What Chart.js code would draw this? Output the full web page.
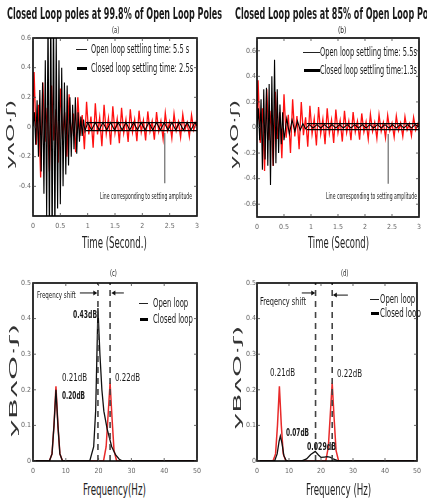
<!DOCTYPE html>
<html>
<head>
<meta charset="utf-8">
<script src="https://cdn.jsdelivr.net/npm/chart.js@4.4.1/dist/chart.umd.min.js"></script>
<style>
html, body { margin: 0; padding: 0; background: #fff; }
#fig { position: relative; width: 427px; height: 503px; overflow: hidden; background: #fff;
       font-family: 'Liberation Sans Narrow', 'DejaVu Sans Condensed', 'Liberation Sans', sans-serif; color: #1a1a1a; }
canvas { position: absolute; }
.t { position: absolute; white-space: nowrap; line-height: 1; transform-origin: 0 50%; }
.tr { position: absolute; white-space: nowrap; line-height: 1; transform-origin: 50% 50%; color: #333; }
.ln { position: absolute; background: #222; }
</style>
</head>
<body>
<div id="fig">
  <canvas id="ca" width="213" height="230" style="left:0;top:20px"></canvas>
  <canvas id="cb" width="214" height="230" style="left:213px;top:20px"></canvas>
  <canvas id="cc" width="213" height="218" style="left:0;top:262px"></canvas>
  <canvas id="cd" width="214" height="218" style="left:213px;top:262px"></canvas>

  <!-- titles -->
  <div class="t" id="title1" data-x="7" data-y="14" data-w="215" style="font-size:16px;font-weight:bold">Closed Loop poles at 99.8% of Open Loop Poles</div>
  <div class="t" id="title2" data-x="235" data-y="14" data-like="title1" style="font-size:16px;font-weight:bold">Closed Loop poles at 85% of Open Loop Poles</div>
  <div class="t" data-x="112" data-y="30" data-w="7" style="font-size:9px">(a)</div>
  <div class="t" data-x="338" data-y="30" data-w="8" style="font-size:9px">(b)</div>
  <div class="t" data-x="110" data-y="273" data-w="7" style="font-size:9px">(c)</div>
  <div class="t" data-x="341" data-y="273" data-w="7" style="font-size:9px">(d)</div>

  <!-- legends (a) -->
  <div class="ln" style="left:76px;top:48.5px;width:11px;height:1px"></div>
  <div class="t" data-x="91" data-y="49" data-w="98" style="font-size:12px">Open loop settling time: 5.5 s</div>
  <div class="ln" style="left:77px;top:67px;width:10px;height:3px;background:#000"></div>
  <div class="t" data-x="91" data-y="68" data-w="102" style="font-size:12px">Closed loop settling time: 2.5s</div>
  <!-- legends (b) -->
  <div class="ln" style="left:303px;top:51.5px;width:17px;height:1px"></div>
  <div class="t" data-x="320" data-y="52" data-w="97" style="font-size:12px">Open loop settling time: 5.5s</div>
  <div class="ln" style="left:304px;top:68.5px;width:16px;height:3px;background:#000"></div>
  <div class="t" data-x="320" data-y="70" data-w="97" style="font-size:12px">Closed loop settling time:1.3s</div>
  <!-- legends (c) -->
  <div class="ln" style="left:139px;top:302.5px;width:9px;height:1px"></div>
  <div class="t" data-x="153" data-y="303" data-w="35" style="font-size:12px">Open loop</div>
  <div class="ln" style="left:140px;top:317.5px;width:8px;height:3px;background:#000"></div>
  <div class="t" data-x="153" data-y="319" data-w="40" style="font-size:12px">Closed loop</div>
  <!-- legends (d) -->
  <div class="ln" style="left:370px;top:298.5px;width:9px;height:1px"></div>
  <div class="t" data-x="380" data-y="299" data-w="35" style="font-size:12px">Open loop</div>
  <div class="ln" style="left:371px;top:311.5px;width:8px;height:3px;background:#000"></div>
  <div class="t" data-x="380" data-y="313" data-w="41" style="font-size:12px">Closed loop</div>

  <!-- annotations -->
  <div class="t" data-x="100" data-y="197" data-w="92" style="font-size:8px">Line corresponding to setting amplitude</div>
  <div class="t" data-x="326" data-y="197" data-w="91" style="font-size:8px">Line corresponding to setting amplitude</div>
  <div class="t" data-x="37" data-y="295" data-w="39" style="font-size:9px">Freqency shift</div>
  <div class="t" data-x="260" data-y="302" data-w="46" style="font-size:10px">Freqency shift</div>
  <div class="t" data-x="73" data-y="314" data-w="24" style="font-size:11px;font-weight:bold">0.43dB</div>
  <div class="t" data-x="62" data-y="377" data-w="25" style="font-size:11px">0.21dB</div>
  <div class="t" data-x="62" data-y="395" data-w="23" style="font-size:11px;font-weight:bold">0.20dB</div>
  <div class="t" data-x="115" data-y="377" data-w="25" style="font-size:11px">0.22dB</div>
  <div class="t" data-x="270" data-y="372" data-w="25" style="font-size:11px">0.21dB</div>
  <div class="t" data-x="337" data-y="373" data-w="25" style="font-size:11px">0.22dB</div>
  <div class="t" data-x="286" data-y="432" data-w="23" style="font-size:11px;font-weight:bold">0.07dB</div>
  <div class="t" data-x="307" data-y="446" data-w="29" style="font-size:11px;font-weight:bold">0.029dB</div>

  <!-- axis titles -->
  <div class="t" data-x="82" data-y="243" data-w="65" style="font-size:16px;color:#222">Time (Second.)</div>
  <div class="t" data-x="308" data-y="243" data-w="61" style="font-size:16px;color:#222">Time (Second)</div>
  <div class="t" data-x="83" data-y="490" data-w="63" style="font-size:16px;color:#222">Frequency(Hz)</div>
  <div class="t" data-x="306" data-y="490" data-w="65" style="font-size:16px;color:#222">Frequency (Hz)</div>
  <div class="tr" data-cx="11" data-cy="134" data-w="70" style="font-size:11px">yʌO·ʃ)</div>
  <div class="tr" data-cx="235" data-cy="134" data-w="70" style="font-size:11px">yʌO·ʃ)</div>
  <div class="tr" data-cx="13" data-cy="380" data-w="115" style="font-size:11px">yBʌO·ʃ)</div>
  <div class="tr" data-cx="237" data-cy="377" data-w="105" style="font-size:11px">yBʌO·ʃ)</div>
</div>

<script>
const FONT = "'Liberation Sans Narrow','DejaVu Sans Condensed','Liberation Sans',sans-serif";

// axis ticks
const timeTicks = [0, 0.5, 1, 1.5, 2, 2.5, 3];
const ampTicksA = [-0.4, -0.2, 0, 0.2, 0.4, 0.6];
const ampTicksB = [-0.6, -0.4, -0.2, 0, 0.2, 0.4, 0.6];
const freqTicks = [0, 10, 20, 30, 40, 50];
const specTicks = [0, 0.1, 0.2, 0.3, 0.4, 0.5];

// open loop response [time s, amplitude] (same in a and b)
const openLoopSignal = [
  [0,0.05],[0.02,0.37],[0.06,-0.12],[0.10,0.15],[0.14,-0.34],
  [0.18,0.30],[0.22,-0.10],[0.26,0.13],[0.30,-0.30],
  [0.34,0.28],[0.38,-0.09],[0.42,0.12],[0.46,-0.24],
  [0.50,0.26],[0.54,-0.08],[0.58,0.10],[0.62,-0.20],
  [0.66,0.22],[0.70,-0.07],[0.74,0.09],[0.78,-0.17],
  [0.82,0.20],[0.86,-0.06],[0.90,0.08],[0.94,-0.15],
  [0.98,0.17],[1.02,-0.05],[1.06,0.07],[1.10,-0.14],
  [1.14,0.16],[1.18,-0.05],[1.22,0.065],[1.26,-0.13],
  [1.30,0.15],[1.34,-0.045],[1.38,0.06],[1.42,-0.12],
  [1.46,0.14],[1.50,-0.04],[1.54,0.055],[1.58,-0.11],
  [1.62,0.13],[1.66,-0.04],[1.70,0.05],[1.74,-0.10],
  [1.78,0.12],[1.82,-0.035],[1.86,0.05],[1.90,-0.095],
  [1.94,0.11],[1.98,-0.035],[2.02,0.045],[2.06,-0.09],
  [2.10,0.105],[2.14,-0.03],[2.18,0.04],[2.22,-0.085],
  [2.26,0.10],[2.30,-0.03],[2.34,0.04],[2.38,-0.08],
  [2.42,0.095],[2.46,-0.025],[2.50,0.035],[2.54,-0.075],
  [2.58,0.09],[2.62,-0.025],[2.66,0.035],[2.70,-0.07],
  [2.74,0.085],[2.78,-0.02],[2.82,0.03],[2.86,-0.065],
  [2.90,0.08],[2.94,-0.02],[2.98,0.03],[3.0,-0.01]
];

// closed loop, poles at 99.8%
const closedLoop998 = [
  [0,0],[0.025,0.1],[0.05,-0.12],[0.075,0.18],[0.1,-0.2],[0.125,0.25],[0.15,-0.3],
  [0.175,0.3],[0.2,-0.45],[0.225,0.45],[0.25,-0.6],[0.275,0.75],[0.3,-0.75],
  [0.325,0.8],[0.35,-0.8],[0.375,0.8],[0.4,-0.75],[0.425,0.6],[0.45,-0.55],
  [0.475,0.45],[0.5,-0.52],[0.525,0.4],[0.55,-0.4],[0.575,0.3],[0.6,-0.32],
  [0.625,0.28],[0.65,-0.26],[0.675,0.2],[0.7,-0.2],[0.725,0.15],[0.75,-0.15],
  [0.775,0.2],[0.8,-0.18],[0.825,0.1],[0.85,-0.1],[0.875,0.07],[0.9,-0.06],
  [0.925,0.05],[0.95,-0.03],
  [1.0,0.03],[1.07,-0.02],[1.14,0.03],[1.21,-0.02],[1.28,0.03],[1.35,-0.02],
  [1.42,0.03],[1.49,-0.02],[1.56,0.03],[1.63,-0.02],[1.70,0.03],[1.77,-0.02],
  [1.84,0.03],[1.91,-0.02],[1.98,0.03],[2.05,-0.02],[2.12,0.03],[2.19,-0.02],
  [2.26,0.03],[2.33,-0.02],[2.40,0.03],[2.47,-0.02],[2.54,0.03],[2.61,-0.02],
  [2.68,0.03],[2.75,-0.02],[2.82,0.03],[2.89,-0.02],[2.96,0.03],[3.0,0.01]
];

// closed loop, poles at 85%
const closedLoop85 = [
  [0,0],[0.025,0.15],[0.05,-0.1],[0.075,0.22],[0.1,-0.33],[0.125,0.3],[0.15,-0.25],
  [0.175,0.31],[0.2,-0.3],[0.225,0.34],[0.25,-0.45],[0.275,0.4],[0.3,-0.3],
  [0.325,0.53],[0.35,-0.28],[0.375,0.3],[0.4,-0.2],[0.425,0.18],[0.45,-0.13],
  [0.475,0.12],[0.5,-0.1],[0.55,0.07],[0.6,-0.05],[0.65,0.06],[0.7,-0.03],
  [0.75,0.05],[0.8,-0.02],[0.85,0.03],[0.9,-0.01],
  [0.97,0.022],[1.04,-0.004],[1.11,0.022],[1.18,-0.004],[1.25,0.022],[1.32,-0.004],
  [1.39,0.022],[1.46,-0.004],[1.53,0.022],[1.60,-0.004],[1.67,0.022],[1.74,-0.004],
  [1.81,0.022],[1.88,-0.004],[1.95,0.022],[2.02,-0.004],[2.09,0.022],[2.16,-0.004],
  [2.23,0.022],[2.30,-0.004],[2.37,0.022],[2.44,-0.004],[2.51,0.022],[2.58,-0.004],
  [2.65,0.022],[2.72,-0.004],[2.79,0.022],[2.86,-0.004],[2.93,0.022],[3.0,0.004]
];

// settling bands [start time, upper, lower] and pointer line [time, top, bottom]
const settleBandA = [0.97, 0.03, -0.025];
const settleBandB = [0.92, 0.03, -0.016];
const pointerA = [2.41, -0.04, -0.38];
const pointerB = [2.43, -0.05, -0.44];

// spectra [Hz, dB]
const openLoopSpectrum = [
  [0,0],[5,0],[5.8,0.02],[6.4,0.1],[7,0.21],[7.6,0.1],[8.2,0.02],[9,0],
  [21.5,0],[22.3,0.04],[22.9,0.13],[23.5,0.22],[24.1,0.12],[24.7,0.03],[25.5,0],[50,0]
];
const closedSpectrum998 = [
  [0,0],[5,0],[5.8,0.02],[6.4,0.1],[7,0.2],[7.6,0.1],[8.2,0.02],[9,0],
  [17.3,0],[18.5,0.04],[19.1,0.14],[19.8,0.43],[20.4,0.3],[21,0.2],[21.6,0.14],
  [22.6,0.09],[24,0.04],[25.2,0.017],[26.3,0.005],[27.3,0],[50,0]
];
const closedSpectrum85 = [
  [0,0],[5.5,0],[6.3,0.02],[6.9,0.055],[7.3,0.07],[7.8,0.05],[8.4,0.015],[9.2,0],
  [13.8,0],[15.5,0.006],[16.8,0.018],[18.2,0.027],[19.2,0.017],[20,0.01],[21,0.011],
  [22,0.012],[23,0.01],[24,0.005],[25,0.002],[26,0],[50,0]
];
const shiftLinesC = [19.8, 23.5];
const shiftLinesD = [18.3, 23.5];

const pts = a => a.map(p => ({x: p[0], y: p[1]}));
const seg = (x1, y1, x2, y2) => [{x: x1, y: y1}, {x: x2, y: y2}];

const framePlugin = {
  id: 'frame',
  afterDatasetsDraw(chart) {
    const {ctx, chartArea: a, scales} = chart;
    ctx.save();
    ctx.strokeStyle = '#000';
    ctx.lineWidth = 1.6;
    ctx.strokeRect(a.left, a.top, a.right - a.left, a.bottom - a.top);
    ctx.lineWidth = 0.8;
    ctx.strokeStyle = '#444';
    ctx.beginPath();
    scales.x.ticks.forEach(t => {
      const p = scales.x.getPixelForValue(t.value);
      ctx.moveTo(p, a.bottom); ctx.lineTo(p, a.bottom - 3);
      ctx.moveTo(p, a.top); ctx.lineTo(p, a.top + 3);
    });
    scales.y.ticks.forEach(t => {
      const p = scales.y.getPixelForValue(t.value);
      ctx.moveTo(a.left, p); ctx.lineTo(a.left + 3, p);
      ctx.moveTo(a.right, p); ctx.lineTo(a.right - 3, p);
    });
    ctx.stroke();
    ctx.restore();
  }
};

// arrows drawn in data units
const arrowPlugin = {
  id: 'arrowMarks',
  afterDatasetsDraw(chart, args, opts) {
    const list = opts.list || [];
    const {ctx, scales} = chart;
    ctx.save();
    ctx.strokeStyle = '#111';
    ctx.fillStyle = '#111';
    ctx.lineWidth = 1;
    list.forEach(ar => {
      const x1 = scales.x.getPixelForValue(ar.from), x2 = scales.x.getPixelForValue(ar.to);
      const y = scales.y.getPixelForValue(ar.y);
      const d = x2 > x1 ? 1 : -1;
      ctx.beginPath(); ctx.moveTo(x1, y); ctx.lineTo(x2 - d * 3, y); ctx.stroke();
      ctx.beginPath(); ctx.moveTo(x2, y); ctx.lineTo(x2 - d * 4, y - 2.5); ctx.lineTo(x2 - d * 4, y + 2.5);
      ctx.closePath(); ctx.fill();
    });
    ctx.restore();
  }
};

function makeChart(id, c) {
  return new Chart(document.getElementById(id), {
    type: 'scatter',
    data: {datasets: c.datasets},
    plugins: [framePlugin, arrowPlugin],
    options: {
      responsive: false,
      animation: false,
      devicePixelRatio: 1,
      layout: {padding: {top: c.padTop, right: c.padRight, left: 0, bottom: 0}},
      plugins: {legend: {display: false}, tooltip: {enabled: false}, arrowMarks: {list: c.arrows || []}},
      elements: {point: {radius: 0}, line: {tension: 0}},
      scales: {
        x: {
          type: 'linear', min: c.xMin, max: c.xMax,
          afterBuildTicks: ax => { ax.ticks = c.xTicks.map(v => ({value: v})); },
          afterFit: ax => { ax.height = c.xHeight; },
          grid: {display: false, drawTicks: false}, border: {display: false},
          ticks: {font: {size: 7, family: FONT}, color: '#666', padding: 6, maxRotation: 0, autoSkip: false,
                  callback: v => String(v)}
        },
        y: {
          type: 'linear', min: c.yMin, max: c.yMax,
          afterBuildTicks: ax => { ax.ticks = c.yTicks.map(v => ({value: v})); },
          afterFit: ax => { ax.width = c.yWidth; },
          grid: {display: false, drawTicks: false}, border: {display: false},
          ticks: {font: {size: 7, family: FONT}, color: '#666', padding: c.yPad, autoSkip: false,
                  callback: v => String(v)}
        }
      }
    }
  });
}

function line(data, color, w, extra) {
  return Object.assign({data: data, showLine: true, borderColor: color, borderWidth: w, pointRadius: 0}, extra || {});
}

function timePanel(id, closed, band, pointer, yMin, yMax, yTicks, yWidth, padRight, yPad, xHeight) {
  makeChart(id, {
    xMin: 0, xMax: 3, yMin: yMin, yMax: yMax, xTicks: timeTicks, yTicks: yTicks,
    yWidth: yWidth, xHeight: xHeight, padTop: 18, padRight: padRight, yPad: yPad,
    datasets: [
      line(seg(band[0], band[1], 3, band[1]), '#000', 1.3, {order: 0}),
      line(seg(band[0], band[2], 3, band[2]), '#000', 1.3, {order: 0}),
      line(seg(pointer[0], pointer[1], pointer[0], pointer[2]), '#777', 1.3, {order: 0}),
      line(pts(closed), '#000', 1.1, {order: 1}),
      line(pts(openLoopSignal), '#ff1010', 1.3, {order: 2})
    ]
  });
}

timePanel('ca', closedLoop998, settleBandA, pointerA, -0.6, 0.6, ampTicksA, 33, 16, 2, 34);
timePanel('cb', closedLoop85, settleBandB, pointerB, -0.7, 0.7, ampTicksB, 44, 6, 1, 33);

function specPanel(id, closed, shifts, arrows, yWidth, padRight, yPad) {
  makeChart(id, {
    xMin: 0, xMax: 50, yMin: 0, yMax: 0.5, xTicks: freqTicks, yTicks: specTicks,
    yWidth: yWidth, xHeight: 19, padTop: 21, padRight: padRight, yPad: yPad,
    arrows: arrows,
    datasets: [
      line(seg(shifts[0], 0, shifts[0], 0.5), '#444', 1.6, {borderDash: [6, 5], order: 0}),
      line(seg(shifts[1], 0, shifts[1], 0.5), '#444', 1.6, {borderDash: [6, 5], order: 0}),
      line(pts(closed), '#111', 1.3, {order: 1}),
      line(pts(openLoopSpectrum), '#e82a2a', 1.5, {order: 2})
    ]
  });
}

specPanel('cc', closedSpectrum998, shiftLinesC,
  [{from: 14.3, to: 19.6, y: 0.472}, {from: 27.7, to: 23.9, y: 0.472}], 33, 16, 2);
specPanel('cd', closedSpectrum85, shiftLinesD,
  [{from: 14.0, to: 18.2, y: 0.472}, {from: 28.4, to: 23.7, y: 0.466}], 44, 6, 1);

// place and fit text
const scales = {};
document.querySelectorAll('.t').forEach(el => {
  const w = el.offsetWidth, h = el.offsetHeight;
  let s;
  if (el.dataset.like) s = scales[el.dataset.like];
  else s = (+el.dataset.w) / w;
  if (el.id) scales[el.id] = s;
  el.style.left = el.dataset.x + 'px';
  el.style.top = (+el.dataset.y - h / 2) + 'px';
  el.style.transform = 'scaleX(' + s + ')';
});
document.querySelectorAll('.tr').forEach(el => {
  const w = el.offsetWidth, h = el.offsetHeight;
  const s = (+el.dataset.w) / w;
  el.style.left = (+el.dataset.cx - w / 2) + 'px';
  el.style.top = (+el.dataset.cy - h / 2) + 'px';
  el.style.transform = 'rotate(-90deg) scaleX(' + s + ')';
});
</script>
</body>
</html>
